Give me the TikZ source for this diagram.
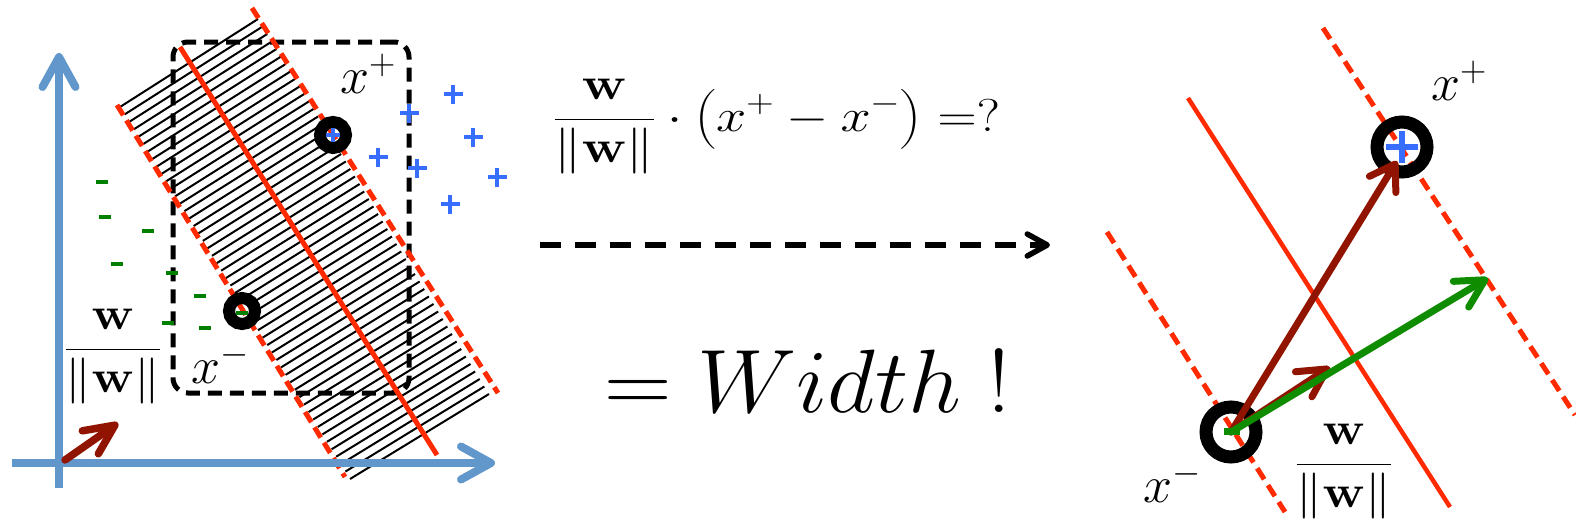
\RequirePackage{fix-cm}
\documentclass[tikz,border=0pt]{standalone}
\usepackage{amsmath}
\usetikzlibrary{arrows.meta,calc}
\definecolor{axisblue}{RGB}{98,151,203}
\definecolor{mred}{RGB}{255,42,0}
\definecolor{dred}{RGB}{145,20,0}
\definecolor{agreen}{RGB}{16,140,0}
\definecolor{pblue}{RGB}{55,110,255}
\definecolor{mgreen}{RGB}{0,128,0}
\tikzset{
  axisline/.style={axisblue, line width=8pt, -{Straight Barb[length=30pt,width=33pt,round]}},
  hatchline/.style={black, line width=2pt},
  margin/.style={mred, line width=5pt, dash pattern=on 12pt off 6pt},
  rmargin/.style={mred, line width=5pt, dash pattern=on 13pt off 7pt},
  hyper/.style={mred, line width=5pt},
  ring/.style={circle, draw=black, inner sep=0pt},
  plussign/.style={pblue, line width=4.5pt},
  minussign/.style={mgreen, line width=4.5pt},
  lab/.style={inner sep=0pt, font=\fontsize{52}{60}\selectfont},
  frac/.style={inner sep=0pt, font=\fontsize{46}{55}\selectfont},
  redarrow/.style={dred, line width=7pt, line cap=round, -{Straight Barb[length=24pt,width=31pt,round]}},
  greenarrow/.style={agreen, line width=7pt, line cap=round, -{Straight Barb[length=28pt,width=30pt,round]}},
}
\begin{document}
\begin{tikzpicture}[x=1pt,y=-1pt]
\useasboundingbox (0,0) rectangle (1576,530);
\clip (0,0) rectangle (1576,530);
% ---------------- left panel ----------------
\coordinate (A0) at (117,105);
\coordinate (A1) at (345,477);
\coordinate (B0) at (252,8);
\coordinate (B1) at (498,393);
\coordinate (P0) at (120,107);
\coordinate (P1) at (350,479);
\coordinate (Q0) at (258,19);
\coordinate (Q1) at (489,394);
\coordinate (H0) at (180,47);
\coordinate (H1) at (437,455);
\foreach \i in {0,...,50}{
  \pgfmathsetmacro\t{\i/50}
  \draw[hatchline] ($(P0)!\t!(P1)$) -- ($(Q0)!\t!(Q1)$);
}
\node[draw=black, line width=5pt, dash pattern=on 14pt off 8pt, rounded corners=15pt,
      minimum width=236pt, minimum height=351pt, inner sep=0pt] (box) at (291,217.5) {};
\coordinate (xpc) at (333,135);
\coordinate (xmc) at (242,311);
\fill[white] (xpc) circle (7);
\fill[white] (xmc) circle (7);
\draw[margin] (A0) -- (A1);
\draw[margin] (B0) -- (B1);
\draw[hyper] (H0) -- (H1);
\node[ring, line width=12pt, minimum size=26pt] (xp) at (xpc) {};
\node[ring, line width=12pt, minimum size=26pt] (xm) at (xmc) {};
% plus signs
\foreach \p in {(453,94),(409,113),(473,137),(378,157),(417,168),(497,177),(450,204)}{
  \draw[plussign] \p ++(-9.5,0) -- ++(19,0) \p ++(0,-9.5) -- ++(0,19);
}
\draw[plussign, line width=3.5pt] (xp.center) ++(-7,0) -- ++(14,0) (xp.center) ++(0,-7) -- ++(0,14);
% minus signs
\foreach \p in {(102,182),(105,217),(148,231),(117,264),(172,273),(200,296),(168,323),(205,328)}{
  \draw[minussign] \p ++(-6,0) -- ++(12,0);
}
\draw[minussign] (xm.center) ++(-6,2) -- ++(12,0);
% axes
\coordinate (ybot) at (59,488);
\coordinate (ytop) at (59,53);
\coordinate (xlft) at (12,463);
\coordinate (xrgt) at (495,463);
\draw[axisline] (ybot) -- (ytop);
\draw[axisline] (xlft) -- (xrgt);
\coordinate (w0) at (65,460);
\coordinate (w1) at (118,423);
\draw[redarrow, line width=7.5pt, -{Straight Barb[length=30pt,width=28pt,round]}] (w0) -- (w1);
\node[frac, anchor=base] (fl) at (113,361) {\scalebox{1.12}[1]{$\displaystyle\frac{\mathbf{w}}{\|\mathbf{w}\|}$}};
\node[lab, anchor=base west] (lxp) at (340,93) {$x^{+}$};
\node[lab, anchor=base west] (lxm) at (191,383) {$x^{-}$};
% ---------------- middle ----------------
\node[frac, anchor=base west] (eq) at (553,131) {\scalebox{1.18}[1]{$\displaystyle\frac{\mathbf{w}}{\|\mathbf{w}\|}\cdot\left(x^{+}-x^{-}\right)=?$}};
\coordinate (da) at (540,245);
\coordinate (db) at (1050,245);
\draw[black, line width=5.5pt, dash pattern=on 21pt off 14pt, -{Straight Barb[length=20pt,width=22pt,round]}] (da) -- (db);
\node[inner sep=0pt, anchor=base west, font=\fontsize{90}{100}\selectfont] (width) at (604,412) {\scalebox{1.04}[1]{$= Width\;!$}};
% ---------------- right panel ----------------
\coordinate (C0) at (1107,232);
\coordinate (C1) at (1285,512);
\coordinate (D0) at (1323,28);
\coordinate (D1) at (1575,415);
\coordinate (E0) at (1188,98);
\coordinate (E1) at (1450,507);
\coordinate (rxpc) at (1402,147);
\coordinate (rxmc) at (1231,432);
\fill[white] (rxpc) circle (17);
\fill[white] (rxmc) circle (17);
\draw[rmargin] (C0) -- (C1);
\draw[rmargin] (D0) -- (D1);
\draw[mred, line width=4.5pt] (E0) -- (E1);
\node[ring, line width=13pt, minimum size=50pt] (rxp) at (rxpc) {};
\node[ring, line width=13pt, minimum size=50pt] (rxm) at (rxmc) {};
\draw[plussign, line width=6pt] (rxp.center) ++(-16,0) -- ++(32,0) (rxp.center) ++(0,-16) -- ++(0,32);
\coordinate (ut) at (1330,367);
\coordinate (gt) at (1488,278);
\draw[redarrow, -{Straight Barb[length=28pt,width=30pt,round]}] (rxm.center) -- (ut);
\draw[redarrow] (rxm.center) -- ($(rxp.center)+(-5,14)$);
\draw[greenarrow] (rxm.center) -- (gt);
\fill[agreen] ($(rxm.center)+(-7,-4)$) rectangle ++(16,7);
\node[lab, anchor=base west] (rlxp) at (1431,100) {$x^{+}$};
\node[lab, anchor=base west] (rlxm) at (1143,502) {$x^{-}$};
\node[frac, anchor=base] (fr) at (1344,476) {\scalebox{1.12}[1]{$\displaystyle\frac{\mathbf{w}}{\|\mathbf{w}\|}$}};
\end{tikzpicture}
\end{document}
